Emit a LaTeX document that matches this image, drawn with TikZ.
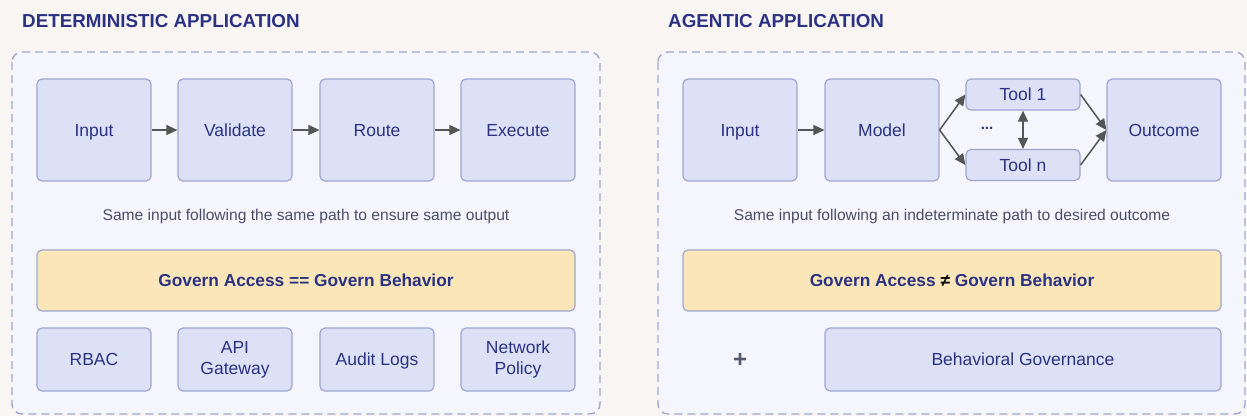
\documentclass[tikz,border=0pt]{standalone}
\usepackage{fontspec}
\setmainfont{Liberation Sans}
\usetikzlibrary{arrows.meta}
\definecolor{pagebg}{HTML}{F8F5F3}
\definecolor{panelbg}{HTML}{F4F5FD}
\definecolor{panelline}{HTML}{A0A8CF}
\definecolor{boxfill}{HTML}{DDE1F5}
\definecolor{boxline}{HTML}{9EA6D0}
\definecolor{navy}{HTML}{2B3283}
\definecolor{govfill}{HTML}{FBE6B9}
\definecolor{arrowgray}{HTML}{555555}
\definecolor{captiongray}{HTML}{4A4D66}
\definecolor{plusgray}{HTML}{555A6E}
\tikzset{
  panel/.style={draw=panelline, fill=panelbg, line width=1.4pt,
    dash pattern=on 8pt off 5pt, rounded corners=10pt},
  stepbox/.style={draw=boxline, fill=boxfill, line width=1.2pt, rounded corners=5pt,
    minimum width=114pt, minimum height=102pt, inner sep=0pt,
    text=navy, font=\fontsize{17.5}{21}\selectfont, align=center,
    text height=12.5pt, text depth=0pt},
  toolbox/.style={stepbox, minimum height=31pt},
  ctrlbox/.style={stepbox, minimum height=63pt},
  twoline/.style={text height=, text depth=},
  govbox/.style={draw=boxline, fill=govfill, line width=1.2pt, rounded corners=5pt,
    minimum width=538pt, minimum height=61pt, inner sep=0pt,
    text=navy, font=\bfseries\fontsize{17.3}{20}\selectfont,
    text height=12.5pt, text depth=0pt},
  heading/.style={text=navy, font=\bfseries\fontsize{18.8}{22}\selectfont, anchor=west, inner sep=0pt},
  caption/.style={text=captiongray, font=\fontsize{15.6}{18}\selectfont, inner sep=0pt,
    text height=11pt, text depth=0pt},
  flow/.style={draw=arrowgray, line width=1.5pt, -{Triangle[length=11pt,width=10pt]}},
  flowboth/.style={draw=arrowgray, line width=1.5pt,
    {Triangle[length=11pt,width=10pt]}-{Triangle[length=11pt,width=10pt]}}
}
\begin{document}
\begin{tikzpicture}[x=1pt,y=-1pt]
\fill[pagebg] (0,0) rectangle (1247,416);
\useasboundingbox (0,0) rectangle (1247,416);

% ---- deterministic side ----
\node[heading] (dtitle) at (22,21) {DETERMINISTIC APPLICATION};
\draw[panel] (12,52) rectangle (600,414);

\node[stepbox] (din)  at (94,130)  {Input};
\node[stepbox] (dval) at (235,130) {Validate};
\node[stepbox] (drt)  at (377,130) {Route};
\node[stepbox] (dex)  at (518,130) {Execute};
\draw[flow] (din) -- (dval);
\draw[flow] (dval) -- (drt);
\draw[flow] (drt) -- (dex);

\node[caption] (dcap) at (306,215) {Same input following the same path to ensure same output};
\node[govbox] (dgov) at (306,280.5) {Govern Access == Govern Behavior};

\node[ctrlbox] (rbac)  at (94,359.5)  {RBAC};
\node[ctrlbox, twoline] (api)   at (235,359.5) {API\\Gateway};
\node[ctrlbox] (audit) at (377,359.5) {Audit Logs};
\node[ctrlbox, twoline] (netp)  at (518,359.5) {Network\\Policy};

% ---- agentic side ----
\node[heading] (atitle) at (668,21) {AGENTIC APPLICATION};
\draw[panel] (658,52) rectangle (1245,414);

\node[stepbox] (ain)  at (740,130)  {Input};
\node[stepbox] (amod) at (882,130)  {Model};
\node[toolbox] (t1)   at (1023,94.5) {Tool 1};
\node[toolbox] (tn)   at (1023,165)  {Tool n};
\node[stepbox] (aout) at (1164,130) {Outcome};
\node[text=navy, font=\bfseries\fontsize{15}{18}\selectfont, inner sep=0pt] (dots) at (987,128.5) {...};
\draw[flow] (ain) -- (amod);
\draw[flow] (amod.east) -- (t1.west);
\draw[flow] (amod.east) -- (tn.west);
\draw[flow] (t1.east) -- (aout.west);
\draw[flow] (tn.east) -- (aout.west);
\draw[flowboth] (t1.south) -- (tn.north);

\node[caption] (acap) at (952,215) {Same input following an indeterminate path to desired outcome};
\node[govbox] (agov) at (952,280.5) {Govern Access {\color{black}≠} Govern Behavior};

\node[text=plusgray, font=\bfseries\fontsize{24}{26}\selectfont, inner sep=0pt] (plus) at (740,360) {+};
\node[ctrlbox, minimum width=396pt] (bgov) at (1023,359.5) {Behavioral Governance};
\end{tikzpicture}
\end{document}
